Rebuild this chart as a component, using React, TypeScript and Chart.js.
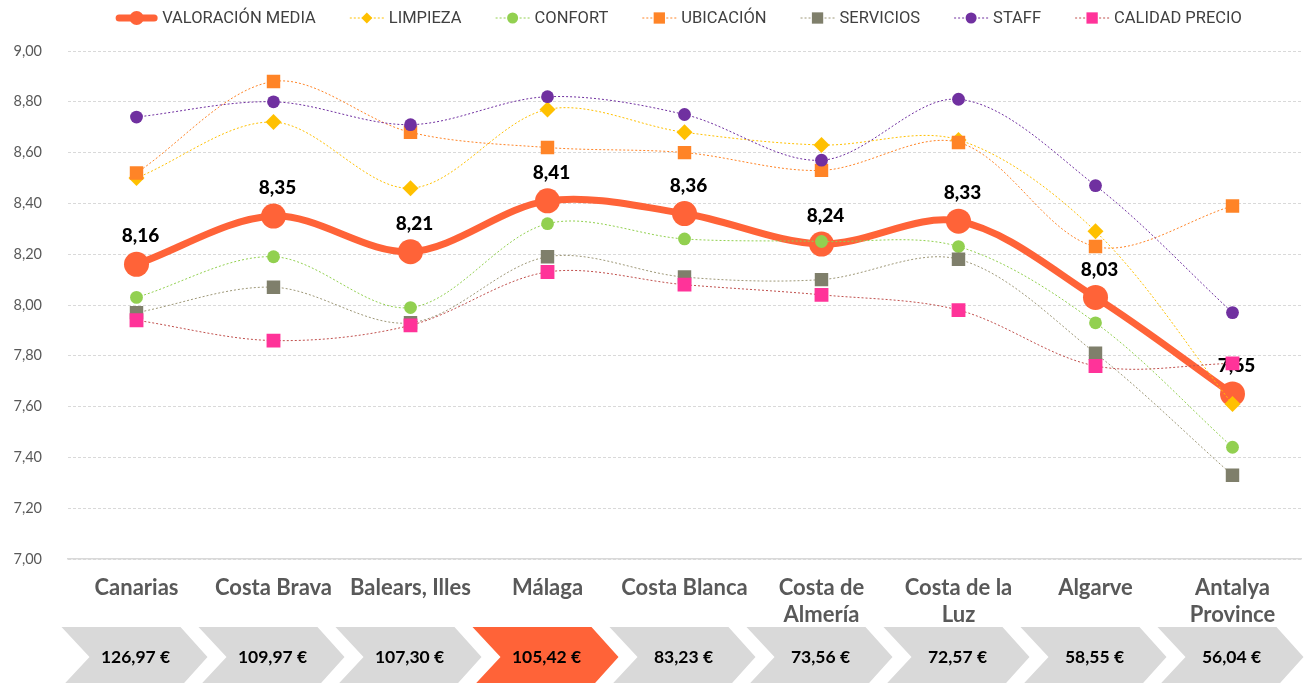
import React, { useEffect, useRef } from 'react';
import { Chart, registerables } from 'chart.js';

Chart.register(...registerables);

const categories: string[][] = [
  ['Canarias'],
  ['Costa Brava'],
  ['Balears, Illes'],
  ['Málaga'],
  ['Costa Blanca'],
  ['Costa de', 'Almería'],
  ['Costa de la', 'Luz'],
  ['Algarve'],
  ['Antalya', 'Province'],
];
const valoracionMedia = [8.16, 8.35, 8.21, 8.41, 8.36, 8.24, 8.33, 8.03, 7.65];
const limpieza = [8.5, 8.72, 8.46, 8.77, 8.68, 8.63, 8.65, 8.29, 7.61];
const confort = [8.03, 8.19, 7.99, 8.32, 8.26, 8.25, 8.23, 7.93, 7.44];
const ubicacion = [8.52, 8.88, 8.68, 8.62, 8.6, 8.53, 8.64, 8.23, 8.39];
const servicios = [7.97, 8.07, 7.93, 8.19, 8.11, 8.1, 8.18, 7.81, 7.33];
const staff = [8.74, 8.8, 8.71, 8.82, 8.75, 8.57, 8.81, 8.47, 7.97];
const calidadPrecio = [7.94, 7.86, 7.92, 8.13, 8.08, 8.04, 7.98, 7.76, 7.77];
const precios = [126.97, 109.97, 107.3, 105.42, 83.23, 73.56, 72.57, 58.55, 56.04];
const destacado = 'Málaga';
const yMin = 7;
const yMax = 9;
const yStep = 0.2;

const ORANGE = '#FF6338';
const TENSION = 0.33;
const fmt = (v: number) => v.toFixed(2).replace('.', ',');

function drawMarker(ctx: CanvasRenderingContext2D, style: string, x: number, y: number, r: number, color: string) {
  ctx.fillStyle = color;
  ctx.beginPath();
  if (style === 'circle') {
    ctx.arc(x, y, r, 0, Math.PI * 2);
  } else if (style === 'rect') {
    const s = r * Math.SQRT1_2;
    ctx.rect(x - s, y - s, 2 * s, 2 * s);
  } else {
    ctx.moveTo(x - r, y);
    ctx.lineTo(x, y - r);
    ctx.lineTo(x + r, y);
    ctx.lineTo(x, y + r);
    ctx.closePath();
  }
  ctx.fill();
}

const overlayPlugin = {
  id: 'overlay',
  afterDatasetDraw(chart: any, args: any) {
    if (args.index !== 0) return;
    const meta = chart.getDatasetMeta(0);
    const ctx: CanvasRenderingContext2D = chart.ctx;
    ctx.save();
    ctx.font = '900 19px Lato';
    ctx.fillStyle = '#000000';
    ctx.textAlign = 'center';
    ctx.textBaseline = 'middle';
    meta.data.forEach((pt: any, i: number) => {
      ctx.fillText(fmt(valoracionMedia[i]), pt.x + 4, pt.y - 28);
    });
    ctx.restore();
  },
  afterDraw(chart: any) {
    const ctx: CanvasRenderingContext2D = chart.ctx;
    const xs = chart.scales.x;
    const bottom = chart.chartArea.bottom;
    // price chevrons
    ctx.save();
    const top = bottom + 68;
    const mid = bottom + 98;
    const bot = bottom + 128;
    precios.forEach((p, i) => {
      const cx = xs.getPixelForValue(i);
      const isHi = categories[i][0] === destacado;
      ctx.fillStyle = isHi ? ORANGE : '#D9D9D9';
      ctx.beginPath();
      ctx.moveTo(cx - 75, top);
      ctx.lineTo(cx + 44, top);
      ctx.lineTo(cx + 71, mid);
      ctx.lineTo(cx + 44, bot);
      ctx.lineTo(cx - 75, bot);
      ctx.lineTo(cx - 47, mid);
      ctx.closePath();
      ctx.fill();
      ctx.fillStyle = '#000000';
      ctx.font = 'bold 17.5px Lato';
      ctx.textAlign = 'center';
      ctx.textBaseline = 'middle';
      ctx.fillText(fmt(p) + ' €', cx - 1, mid);
    });
    ctx.restore();

    // legend
    ctx.save();
    ctx.font = '16.5px Roboto';
    ctx.textBaseline = 'middle';
    ctx.textAlign = 'left';
    const ly = 18;
    const items = chart.data.datasets.map((ds: any, i: number) => {
      const sample = i === 0 ? 41 : 34;
      return { ds, sample, w: sample + 5 + ctx.measureText(ds.label).width };
    });
    const gap = 34;
    const total = items.reduce((a: number, it: any) => a + it.w, 0) + gap * (items.length - 1);
    let x = 679 - total / 2;
    items.forEach((it: any, i: number) => {
      const ds = it.ds;
      ctx.strokeStyle = ds.borderColor;
      ctx.lineWidth = i === 0 ? 7 : 1;
      ctx.lineCap = i === 0 ? 'round' : 'butt';
      ctx.setLineDash(i === 0 ? [] : [2, 2]);
      ctx.beginPath();
      ctx.moveTo(x + (i === 0 ? 3 : 0), ly);
      ctx.lineTo(x + it.sample - (i === 0 ? 3 : 0), ly);
      ctx.stroke();
      ctx.setLineDash([]);
      const r = i === 0 ? 7 : ds.pointStyle === 'circle' ? 5.5 : ds.pointStyle === 'rect' ? 8 : 5.5;
      drawMarker(ctx, ds.pointStyle, x + it.sample / 2, ly, r, ds.pointBackgroundColor);
      ctx.fillStyle = '#404040';
      ctx.fillText(ds.label, x + it.sample + 5, ly + 1);
      x += it.w + gap;
    });
    ctx.restore();
  },
};

function thin(label: string, data: number[], line: string, point: string, style: string, radius: number, order: number) {
  return {
    label,
    data,
    borderColor: line,
    borderWidth: 1,
    borderDash: [2, 2],
    pointStyle: style,
    pointRadius: radius,
    pointBorderWidth: 0,
    pointBackgroundColor: point,
    pointBorderColor: point,
    tension: TENSION,
    order,
  };
}

export default function App() {
  const ref = useRef<HTMLCanvasElement>(null);
  useEffect(() => {
    document.body.style.margin = '0';
    const chart = new Chart(ref.current as HTMLCanvasElement, {
      type: 'line',
      data: {
        labels: categories,
        datasets: [
          {
            label: 'VALORACIÓN MEDIA',
            data: valoracionMedia,
            borderColor: ORANGE,
            borderWidth: 7,
            pointStyle: 'circle',
            pointRadius: 12.5,
            pointBorderWidth: 0,
            pointBackgroundColor: ORANGE,
            pointBorderColor: ORANGE,
            tension: TENSION,
            order: 6,
          } as any,
          thin('LIMPIEZA', limpieza, '#FFC000', '#FFC000', 'rectRot', 8, 5),
          thin('CONFORT', confort, '#92D050', '#92D050', 'circle', 6.4, 4),
          thin('UBICACIÓN', ubicacion, '#FF8427', '#FF8427', 'rect', 9.5, 3),
          thin('SERVICIOS', servicios, '#9E9878', '#7F7F6B', 'rect', 9.5, 2),
          thin('STAFF', staff, '#7030A0', '#7030A0', 'circle', 6.4, 1),
          thin('CALIDAD PRECIO', calidadPrecio, '#C0504D', '#FF3399', 'rect', 9.8, 0),
        ],
      },
      options: {
        responsive: false,
        animation: false,
        devicePixelRatio: 1,
        events: [],
        layout: { autoPadding: false, padding: { top: 51, right: 4, left: 0, bottom: 0 } },
        plugins: {
          legend: { display: false },
          tooltip: { enabled: false },
        },
        scales: {
          x: {
            offset: true,
            grid: { display: false, drawTicks: false },
            border: { display: true, color: '#D9D9D9', width: 1.5 },
            ticks: {
              padding: 16,
              color: '#595959',
              font: { family: 'Lato', size: 22, weight: 'bold', lineHeight: 1.2 },
              maxRotation: 0,
              autoSkip: false,
            },
            afterFit: (s: any) => {
              s.height = 124;
              s.paddingLeft = 0;
              s.paddingRight = 0;
            },
          },
          y: {
            min: yMin,
            max: yMax,
            grid: { color: '#D9D9D9', drawTicks: false, lineWidth: 1 },
            border: { display: false, dash: [3, 2] },
            ticks: {
              stepSize: yStep,
              padding: 26,
              color: '#595959',
              font: { family: 'Lato', size: 14.5 },
              callback: (v: any) => fmt(Number(v)),
            },
            afterFit: (s: any) => {
              s.width = 68;
            },
          },
        },
      } as any,
      plugins: [overlayPlugin],
    });
    return () => chart.destroy();
  }, []);
  return (
    <div style={{ width: 1305, height: 683 }}>
      <canvas ref={ref} width={1305} height={683} style={{ display: 'block' }} />
    </div>
  );
}
